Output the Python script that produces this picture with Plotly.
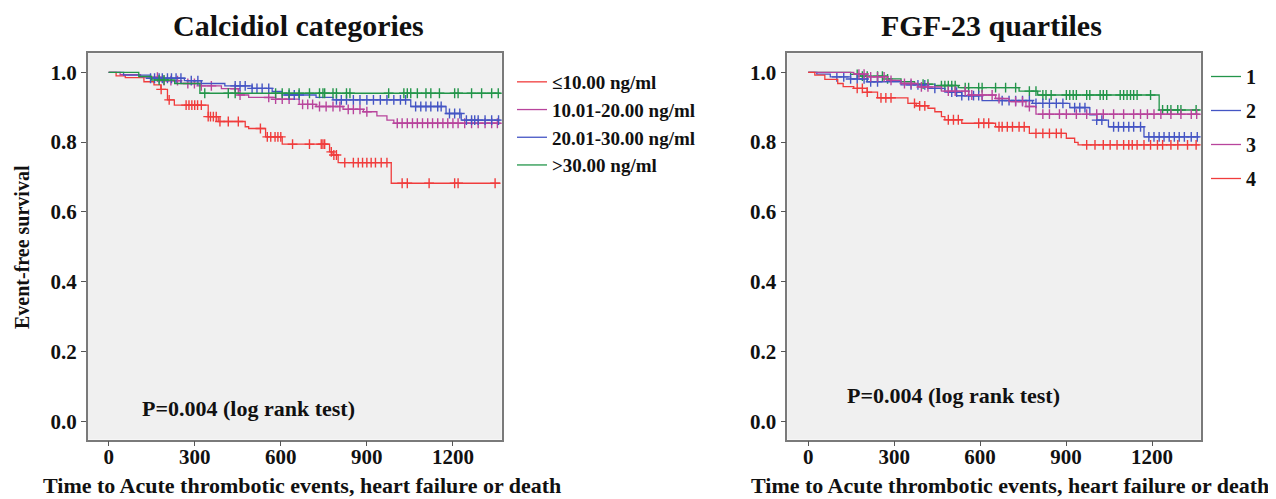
import numpy as np
import plotly.graph_objects as go

# ---------------- DATA ----------------
FOLLOW_UP_END = 1366

# Left panel: Calcidiol categories
calc_labels = ["≤10.00 ng/ml", "10.01-20.00 ng/ml", "20.01-30.00 ng/ml", ">30.00 ng/ml"]
calc_red_t = [0, 26, 58, 123, 158, 182, 205, 229, 347, 382, 476, 488, 547, 605, 770, 782, 800, 985]
calc_red_s = [1.0, 0.990, 0.985, 0.973, 0.964, 0.951, 0.921, 0.906, 0.873, 0.859, 0.844, 0.839, 0.815, 0.794, 0.772, 0.763, 0.741, 0.682]
calc_red_c = [183, 211, 270, 280, 290, 300, 310, 323, 347, 355, 365, 375, 388, 417, 452, 529, 553, 565, 580, 590,
              600, 641, 700, 741, 747, 753, 776, 785, 794, 823, 853, 870, 885, 900, 915, 930, 950, 970, 1023, 1041,
              1117, 1206, 1218, 1347]
calc_mag_t = [0, 40, 111, 182, 252, 323, 393, 452, 488, 582, 664, 723, 817, 888, 935, 970, 994]
calc_mag_s = [1.0, 0.993, 0.986, 0.976, 0.968, 0.961, 0.953, 0.935, 0.928, 0.923, 0.908, 0.902, 0.894, 0.887, 0.875, 0.863, 0.854]
calc_mag_c = [170, 193, 217, 240, 276, 299, 323, 358, 441, 458, 558, 582, 605, 629, 676, 694, 711, 735, 758, 782,
              806, 835, 853, 876, 900, 1006, 1023, 1041, 1059, 1076, 1094, 1112, 1129, 1147, 1165, 1182, 1200, 1218,
              1241, 1265, 1288, 1312, 1335, 1355]
calc_blue_t = [0, 52, 146, 264, 323, 405, 500, 570, 605, 723, 782, 1053, 1176, 1229]
calc_blue_s = [1.0, 0.992, 0.983, 0.976, 0.968, 0.961, 0.954, 0.945, 0.935, 0.928, 0.921, 0.902, 0.882, 0.863]
calc_blue_c = [146, 160, 176, 187, 205, 219, 235, 252, 288, 311, 441, 458, 476, 500, 517, 535, 558, 629, 647, 664,
               794, 811, 829, 853, 876, 900, 923, 947, 970, 994, 1017, 1035, 1070, 1088, 1106, 1123, 1147, 1159,
               1188, 1206, 1224, 1247, 1265, 1276, 1288, 1312, 1335, 1359]
calc_green_t = [0, 105, 150, 230, 318]
calc_green_s = [1.0, 0.988, 0.978, 0.968, 0.940]
calc_green_c = [176, 193, 335, 417, 441, 582, 605, 629, 664, 700, 735, 747, 753, 782, 794, 829, 841, 976, 1029,
                1041, 1053, 1076, 1106, 1123, 1153, 1206, 1218, 1265, 1300, 1335, 1358]

# Right panel: FGF-23 quartiles
fgf_labels = ["1", "2", "3", "4"]
fgf_q1_t = [0, 148, 183, 277, 324, 371, 442, 524, 736, 801, 1225]
fgf_q1_s = [1.0, 0.994, 0.989, 0.981, 0.973, 0.966, 0.962, 0.956, 0.946, 0.935, 0.892]
fgf_q1_c = [171, 189, 206, 242, 259, 277, 401, 418, 465, 477, 489, 501, 513, 548, 560, 595, 607, 654, 689, 724,
            772, 795, 819, 830, 848, 901, 913, 925, 936, 972, 983, 1019, 1030, 1042, 1089, 1101, 1113, 1125, 1136,
            1148, 1195, 1237, 1254, 1266, 1290, 1301, 1354]
fgf_q2_t = [0, 30, 77, 148, 206, 324, 418, 477, 536, 607, 783, 913, 983, 1007, 1048, 1172]
fgf_q2_s = [1.0, 0.995, 0.987, 0.981, 0.973, 0.964, 0.954, 0.943, 0.933, 0.919, 0.911, 0.899, 0.878, 0.863, 0.844, 0.815]
fgf_q2_c = [100, 124, 148, 171, 195, 218, 242, 359, 383, 407, 442, 501, 518, 536, 560, 577, 595, 677, 701, 724,
            748, 772, 795, 819, 842, 866, 889, 930, 948, 966, 1007, 1025, 1066, 1083, 1101, 1119, 1136, 1160,
            1189, 1207, 1225, 1242, 1260, 1278, 1295, 1313, 1337, 1358]
fgf_q3_t = [0, 159, 206, 277, 324, 383, 465, 560, 654, 701, 760, 795]
fgf_q3_s = [1.0, 0.995, 0.987, 0.977, 0.968, 0.958, 0.946, 0.935, 0.925, 0.916, 0.902, 0.880]
fgf_q3_c = [177, 195, 218, 242, 265, 289, 336, 359, 395, 418, 489, 513, 548, 571, 607, 642, 666, 724, 748, 772,
            819, 842, 877, 901, 936, 972, 1007, 1030, 1066, 1101, 1136, 1160, 1184, 1207, 1231, 1266, 1301, 1337,
            1356]
fgf_q4_t = [0, 23, 58, 103, 122, 159, 206, 242, 348, 377, 418, 442, 465, 477, 536, 654, 772, 901, 930, 942]
fgf_q4_s = [1.0, 0.992, 0.980, 0.968, 0.959, 0.954, 0.943, 0.927, 0.911, 0.904, 0.897, 0.887, 0.873, 0.864, 0.854,
            0.844, 0.825, 0.811, 0.799, 0.792]
fgf_q4_c = [171, 189, 206, 254, 271, 289, 371, 389, 407, 489, 507, 524, 595, 613, 630, 666, 677, 695, 713, 736,
            754, 795, 819, 842, 866, 883, 972, 1001, 1030, 1054, 1078, 1101, 1119, 1131, 1148, 1172, 1195, 1219,
            1237, 1266, 1290, 1324, 1354]

x_ticks = [0, 300, 600, 900, 1200]
y_ticks = [0.0, 0.2, 0.4, 0.6, 0.8, 1.0]

# ---------------- STYLE ----------------
RED = "#f03c3c"
MAG = "#b8449c"
BLUE = "#4455c4"
GREEN = "#23954a"
FONT = "Liberation Serif"

# page has an 8px body margin; the figure is sized to end exactly at the window edge
OFF = 8
W, H = 1276 - OFF, 499 - OFF


def PX(px):
    return (px - OFF) / W


def PY(py):
    return 1 - (py - OFF) / H


fig = go.Figure()


def add_km(times, surv, cens, color, name, xa, ya, legend, group):
    t = list(times) + [FOLLOW_UP_END]
    s = list(surv) + [surv[-1]]
    fig.add_trace(go.Scatter(x=t, y=s, mode="lines", line=dict(color=color, width=1.3, shape="hv"),
                             name=name, xaxis=xa, yaxis=ya, legend=legend, legendgroup=group,
                             hoverinfo="skip"))
    tt = np.asarray(times, dtype=float)
    ss = np.asarray(surv, dtype=float)
    c = np.asarray(cens, dtype=float)
    cy = ss[np.searchsorted(tt, c, side="right") - 1]
    fig.add_trace(go.Scatter(x=c, y=cy, mode="markers",
                             marker=dict(symbol="cross-thin-open", size=7, color=color,
                                         line=dict(color=color, width=1.4)),
                             showlegend=False, xaxis=xa, yaxis=ya, legendgroup=group, hoverinfo="skip"))


add_km(calc_red_t, calc_red_s, calc_red_c, RED, calc_labels[0], "x", "y", "legend", "c1")
add_km(calc_mag_t, calc_mag_s, calc_mag_c, MAG, calc_labels[1], "x", "y", "legend", "c2")
add_km(calc_blue_t, calc_blue_s, calc_blue_c, BLUE, calc_labels[2], "x", "y", "legend", "c3")
add_km(calc_green_t, calc_green_s, calc_green_c, GREEN, calc_labels[3], "x", "y", "legend", "c4")

add_km(fgf_q1_t, fgf_q1_s, fgf_q1_c, GREEN, fgf_labels[0], "x2", "y2", "legend2", "f1")
add_km(fgf_q2_t, fgf_q2_s, fgf_q2_c, BLUE, fgf_labels[1], "x2", "y2", "legend2", "f2")
add_km(fgf_q3_t, fgf_q3_s, fgf_q3_c, MAG, fgf_labels[2], "x2", "y2", "legend2", "f3")
add_km(fgf_q4_t, fgf_q4_s, fgf_q4_c, RED, fgf_labels[3], "x2", "y2", "legend2", "f4")

tickfont = dict(family=FONT, size=21, color="#111", weight="bold")

xaxis_common = dict(range=[-73, 1370], tickvals=x_ticks, ticks="outside", ticklen=5, tickcolor="#555",
                    tickwidth=1.3, showgrid=False, zeroline=False, showline=True, linecolor="#7a7a7a",
                    linewidth=1.5, mirror=True, tickfont=tickfont, fixedrange=True, ticklabelstandoff=-7)
yaxis_common = dict(range=[-0.0525, 1.0545], tickvals=y_ticks, tickformat=".1f", ticks="outside", ticklen=5,
                    tickcolor="#555", tickwidth=1.3, showgrid=False, zeroline=False, showline=True,
                    linecolor="#7a7a7a", linewidth=1.5, mirror=True, tickfont=tickfont, fixedrange=True,
                    domain=[PY(439.5), PY(53.3)])

fig.update_layout(
    width=W, height=H,
    margin=dict(l=0, r=0, t=0, b=0),
    paper_bgcolor="white",
    plot_bgcolor="#f0f0f0",
    font=dict(family=FONT, size=20, color="#111", weight="bold"),
    xaxis=dict(domain=[PX(87.7), PX(501.7)], anchor="y", **xaxis_common),
    yaxis=dict(anchor="x", **yaxis_common),
    xaxis2=dict(domain=[PX(787.3), PX(1200.7)], anchor="y2", **xaxis_common),
    yaxis2=dict(anchor="x2", **yaxis_common),
    legend=dict(x=PX(512), y=PY(63), xanchor="left", yanchor="top", bgcolor="rgba(0,0,0,0)",
                font=dict(family=FONT, size=19, color="#111", weight="bold"), tracegroupgap=0,
                itemwidth=30),
    legend2=dict(x=PX(1206), y=PY(57), xanchor="left", yanchor="top", bgcolor="rgba(0,0,0,0)",
                 font=dict(family=FONT, size=20, color="#111", weight="bold"), tracegroupgap=5,
                 itemwidth=30),
    showlegend=True,
)

annotations = [
    dict(text="Calcidiol categories", x=PX(298), y=1, yanchor="top", font=dict(size=30)),
    dict(text="FGF-23 quartiles", x=PX(992), y=1, yanchor="top", font=dict(size=30)),
    dict(text="Event-free survival", x=PX(22), y=PY(247), textangle=-90, font=dict(size=20)),
    dict(text="Time to Acute thrombotic events, heart failure or death", x=PX(302), y=PY(485),
         font=dict(size=22)),
    dict(text="Time to Acute thrombotic events, heart failure or death", x=PX(1010), y=PY(485),
         font=dict(size=22)),
    dict(text="P=0.004 (log rank test)", x=PX(248), y=PY(408), font=dict(size=22)),
    dict(text="P=0.004 (log rank test)", x=PX(953), y=PY(395), font=dict(size=22)),
]
for a in annotations:
    a.setdefault("yanchor", "middle")
    a.update(xref="paper", yref="paper", showarrow=False, xanchor="center", borderpad=0)
    a["font"] = dict(family=FONT, color="#111", weight="bold", **a["font"])
fig.update_layout(annotations=annotations)

fig.write_html("out.html")
